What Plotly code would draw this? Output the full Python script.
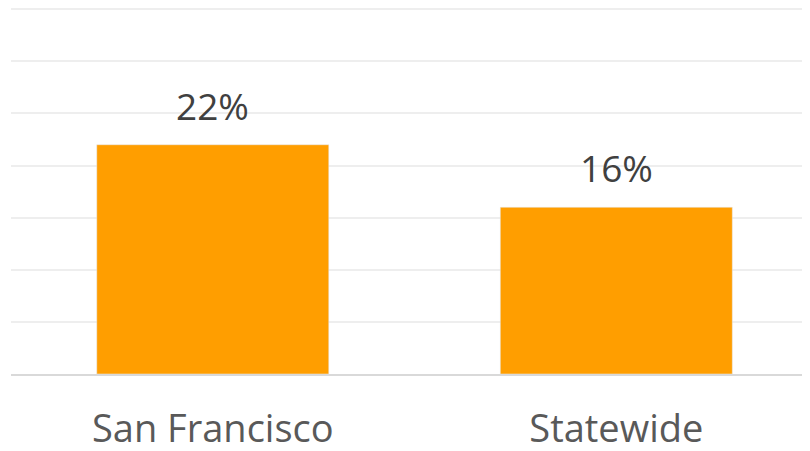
import plotly.graph_objects as go

categories = ["San Francisco", "Statewide"]
values = [22, 16]
value_labels = ["22%", "16%"]

bar_color = "#FF9E00"
font_family = "Open Sans, Noto Sans, sans-serif"

fig = go.Figure()
fig.add_trace(go.Bar(
    x=categories, y=values, marker_color=bar_color, width=0.575,
    hoverinfo="skip",
))

for c, v, t in zip(categories, values, value_labels):
    fig.add_annotation(
        x=c, y=v, text=t, showarrow=False, yanchor="bottom", yshift=12,
        font=dict(family=font_family, size=37, color="#404040"),
    )

fig.update_layout(
    width=810, height=451,
    margin=dict(l=3, r=8, t=0, b=85, autoexpand=False),
    paper_bgcolor="white", plot_bgcolor="white",
    showlegend=False,
    font=dict(family=font_family, color="#595959"),
)
fig.update_xaxes(
    range=[-0.5, 1.48], showgrid=False, showline=True, linecolor="#d9d9d9", linewidth=2,
    ticks="", tickfont=dict(size=38, color="#595959"), ticklabelstandoff=20,
    automargin=False,
)
fig.update_yaxes(
    range=[0, 35.12], dtick=5, showgrid=True, gridcolor="#eeeeee", gridwidth=2,
    showticklabels=False, zeroline=False, showline=False, automargin=False,
)

fig.write_html("out.html")
